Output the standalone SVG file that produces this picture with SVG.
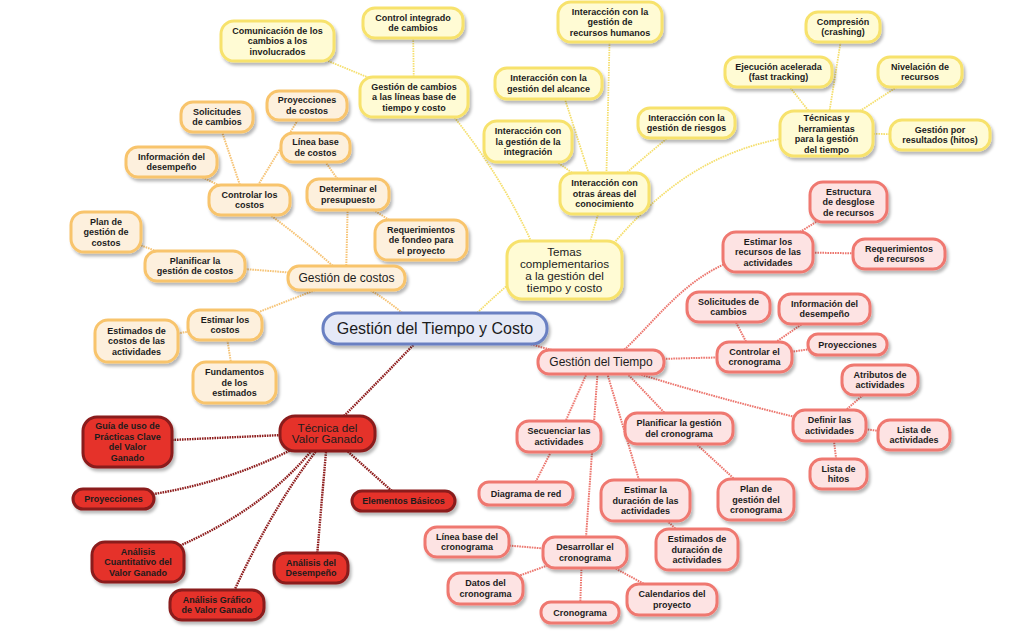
<svg xmlns="http://www.w3.org/2000/svg" width="1032" height="631" viewBox="0 0 1032 631">
<defs>
<filter id="sh" x="-20%" y="-30%" width="140%" height="170%">
<feDropShadow dx="2" dy="3" stdDeviation="1.8" flood-color="#000" flood-opacity="0.28"/>
</filter>
<style>
.n rect{stroke-width:3;filter:url(#sh)}
.n text{font-family:"Liberation Sans",Arial,sans-serif;font-weight:bold;font-size:9px;fill:#1c1c1c;text-anchor:middle}
.n.big text{font-weight:normal;font-size:12px}
.n.mid text{font-weight:normal;font-size:11.7px}
.n.c text{font-weight:normal;font-size:16px}
.y rect{fill:#fffbd4;stroke:#f7e26c}
.o rect{fill:#fdf0dd;stroke:#f8c46c}
.p rect{fill:#fde3e3;stroke:#ef7870}
.r rect{fill:#e5322b;stroke:#8a1c1c}
.c rect{fill:#e5e9f7;stroke:#6a80c2}
#connectors path{fill:none;stroke-width:2;stroke-dasharray:1.6 0.9}
#connectors .cy{stroke:#f5df6e;stroke-width:1.8}
#connectors .co{stroke:#f6c477}
#connectors .cp{stroke:#ec766e}
#connectors .cr{stroke:#8e1d1d;stroke-width:2.4}
</style>
</defs>
<rect width="1032" height="631" fill="#ffffff"/>
<g id="connectors">
<path class="co" d="M346,278 Q380,292 410,320"/>
<path class="cy" d="M470,320 Q495,295 520,275"/>
<path class="cp" d="M500,335 Q540,348 601,362"/>
<path class="cr" d="M420,338 Q380,380 327,433"/>
<path class="cy" d="M277,41 Q340,65 414,97"/>
<path class="cy" d="M413,23 L414,97"/>
<path class="cy" d="M440,100 Q500,170 535,250"/>
<path class="cy" d="M610,22 L606,193"/>
<path class="cy" d="M560,84 Q575,130 595,193"/>
<path class="cy" d="M528,141 L600,193"/>
<path class="cy" d="M686,123 Q640,160 604,193"/>
<path class="cy" d="M604,193 L585,260"/>
<path class="cy" d="M826,133 C720,140 660,185 600,260"/>
<path class="cy" d="M843,27 L826,133"/>
<path class="cy" d="M778,72 L826,133"/>
<path class="cy" d="M920,72 L826,133"/>
<path class="cy" d="M940,135 L826,133"/>
<path class="co" d="M249,200 Q300,235 346,278"/>
<path class="co" d="M348,194 L346,278"/>
<path class="co" d="M195,266 Q270,270 346,278"/>
<path class="co" d="M225,325 Q290,300 346,278"/>
<path class="co" d="M217,117 L245,200"/>
<path class="co" d="M307,105 L249,200"/>
<path class="co" d="M171,162 L249,200"/>
<path class="co" d="M315,147 L348,194"/>
<path class="co" d="M421,240 L348,194"/>
<path class="co" d="M106,232 L195,266"/>
<path class="co" d="M136,341 L225,325"/>
<path class="co" d="M225,325 L234,382"/>
<path class="cp" d="M615,358 C660,320 690,262 768,252"/>
<path class="cp" d="M601,362 Q660,358 754,357"/>
<path class="cp" d="M620,368 Q720,400 829,425"/>
<path class="cp" d="M620,366 L679,428"/>
<path class="cp" d="M605,366 L645,500"/>
<path class="cp" d="M598,366 L585,552"/>
<path class="cp" d="M590,366 L559,436"/>
<path class="cp" d="M848,202 L768,252"/>
<path class="cp" d="M899,254 L768,252"/>
<path class="cp" d="M728,307 L754,357"/>
<path class="cp" d="M824,309 L754,357"/>
<path class="cp" d="M847,344 L754,357"/>
<path class="cp" d="M880,380 L829,425"/>
<path class="cp" d="M914,435 L829,425"/>
<path class="cp" d="M838,474 L832,425"/>
<path class="cp" d="M559,436 L530,493"/>
<path class="cp" d="M679,428 L756,499"/>
<path class="cp" d="M645,500 L697,549"/>
<path class="cp" d="M467,542 L585,552"/>
<path class="cp" d="M485,588 L585,552"/>
<path class="cp" d="M582,552 L580,612"/>
<path class="cp" d="M585,552 L672,599"/>
<path class="cr" d="M127,442 L327,433"/>
<path class="cr" d="M113,499 Q220,490 310,440"/>
<path class="cr" d="M138,562 Q260,520 320,440"/>
<path class="cr" d="M230,600 Q275,500 325,440"/>
<path class="cr" d="M316,568 L327,440"/>
<path class="cr" d="M403,501 L335,440"/>
</g>

<g id="comunicacion" class="n y"><rect x="221" y="21" width="113" height="40" rx="13"/><text x="277.5" y="33.7">Comunicación de los<tspan x="277.5" dy="10.5">cambios a los</tspan><tspan x="277.5" dy="10.5">involucrados</tspan></text></g>
<g id="control-integrado" class="n y"><rect x="363" y="8" width="100" height="30" rx="12"/><text x="413" y="20.9">Control integrado<tspan x="413" dy="10.5">de cambios</tspan></text></g>
<g id="gestion-cambios" class="n y"><rect x="360" y="77" width="108" height="40" rx="13"/><text x="414" y="89.7">Gestión de cambios<tspan x="414" dy="10.5">a las líneas base de</tspan><tspan x="414" dy="10.5">tiempo y costo</tspan></text></g>
<g id="int-rrhh" class="n y"><rect x="558" y="2" width="104" height="40" rx="13"/><text x="610" y="14.7">Interacción con la<tspan x="610" dy="10.5">gestión de</tspan><tspan x="610" dy="10.5">recursos humanos</tspan></text></g>
<g id="int-alcance" class="n y"><rect x="495" y="68" width="107" height="31" rx="12"/><text x="548.5" y="81.4">Interacción con la<tspan x="548.5" dy="10.5">gestión del alcance</tspan></text></g>
<g id="int-integracion" class="n y"><rect x="484" y="121" width="88" height="41" rx="13"/><text x="528" y="134.2">Interacción con<tspan x="528" dy="10.5">la gestión de la</tspan><tspan x="528" dy="10.5">integración</tspan></text></g>
<g id="int-riesgos" class="n y"><rect x="638" y="108" width="97" height="30" rx="12"/><text x="686.5" y="120.9">Interacción con la<tspan x="686.5" dy="10.5">gestión de riesgos</tspan></text></g>
<g id="int-otras" class="n y"><rect x="560" y="173" width="89" height="41" rx="13"/><text x="604.5" y="186.2">Interacción con<tspan x="604.5" dy="10.5">otras áreas del</tspan><tspan x="604.5" dy="10.5">conocimiento</tspan></text></g>
<g id="compresion" class="n y"><rect x="806" y="12" width="74" height="30" rx="12"/><text x="843" y="24.9">Compresión<tspan x="843" dy="10.5">(crashing)</tspan></text></g>
<g id="ejecucion" class="n y"><rect x="725" y="57" width="107" height="30" rx="12"/><text x="778.5" y="69.9">Ejecución acelerada<tspan x="778.5" dy="10.5">(fast tracking)</tspan></text></g>
<g id="nivelacion" class="n y"><rect x="878" y="57" width="84" height="30" rx="12"/><text x="920" y="69.9">Nivelación de<tspan x="920" dy="10.5">recursos</tspan></text></g>
<g id="tecnicas" class="n y"><rect x="780" y="111" width="93" height="45" rx="14"/><text x="826.5" y="121">Técnicas y<tspan x="826.5" dy="10.5">herramientas</tspan><tspan x="826.5" dy="10.5">para la gestión</tspan><tspan x="826.5" dy="10.5">del tiempo</tspan></text></g>
<g id="gestion-resultados" class="n y"><rect x="890" y="120" width="100" height="30" rx="12"/><text x="940" y="132.9">Gestión por<tspan x="940" dy="10.5">resultados (hitos)</tspan></text></g>
<g id="temas" class="n y mid"><rect x="507" y="241" width="115" height="58" rx="15"/><text x="564.5" y="256">Temas<tspan x="564.5" dy="12">complementarios</tspan><tspan x="564.5" dy="12">a la gestión del</tspan><tspan x="564.5" dy="12">tiempo y costo</tspan></text></g>

<g id="o-solicitudes" class="n o"><rect x="181" y="102" width="72" height="30" rx="12"/><text x="217" y="114.9">Solicitudes<tspan x="217" dy="10.5">de cambios</tspan></text></g>
<g id="o-proyecciones" class="n o"><rect x="267" y="91" width="80" height="29" rx="12"/><text x="307" y="103.4">Proyecciones<tspan x="307" dy="10.5">de costos</tspan></text></g>
<g id="o-linea-base" class="n o"><rect x="281" y="133" width="69" height="29" rx="12"/><text x="315.5" y="145.4">Línea base<tspan x="315.5" dy="10.5">de costos</tspan></text></g>
<g id="o-informacion" class="n o"><rect x="126" y="147" width="91" height="30" rx="12"/><text x="171.5" y="159.9">Información del<tspan x="171.5" dy="10.5">desempeño</tspan></text></g>
<g id="o-controlar" class="n o"><rect x="209" y="185" width="81" height="30" rx="12"/><text x="249.5" y="197.9">Controlar los<tspan x="249.5" dy="10.5">costos</tspan></text></g>
<g id="o-determinar" class="n o"><rect x="307" y="179" width="82" height="31" rx="12"/><text x="348" y="192.4">Determinar el<tspan x="348" dy="10.5">presupuesto</tspan></text></g>
<g id="o-requerimientos" class="n o"><rect x="375" y="220" width="92" height="40" rx="13"/><text x="421" y="232.7">Requerimientos<tspan x="421" dy="10.5">de fondeo para</tspan><tspan x="421" dy="10.5">el proyecto</tspan></text></g>
<g id="o-plan" class="n o"><rect x="71" y="212" width="70" height="40" rx="13"/><text x="106" y="224.7">Plan de<tspan x="106" dy="10.5">gestión de</tspan><tspan x="106" dy="10.5">costos</tspan></text></g>
<g id="o-planificar" class="n o"><rect x="145" y="251" width="100" height="30" rx="12"/><text x="195" y="263.9">Planificar la<tspan x="195" dy="10.5">gestión de costos</tspan></text></g>
<g id="gestion-costos" class="n o big"><rect x="288" y="266" width="117" height="24" rx="11"/><text x="346.5" y="282.2">Gestión de costos</text></g>
<g id="o-estimar" class="n o"><rect x="188" y="310" width="74" height="30" rx="12"/><text x="225" y="322.9">Estimar los<tspan x="225" dy="10.5">costos</tspan></text></g>
<g id="o-estimados" class="n o"><rect x="95" y="320" width="83" height="42" rx="13"/><text x="136.5" y="333.7">Estimados de<tspan x="136.5" dy="10.5">costos de las</tspan><tspan x="136.5" dy="10.5">actividades</tspan></text></g>
<g id="o-fundamentos" class="n o"><rect x="193" y="362" width="83" height="41" rx="13"/><text x="234.5" y="375.2">Fundamentos<tspan x="234.5" dy="10.5">de los</tspan><tspan x="234.5" dy="10.5">estimados</tspan></text></g>

<g id="p-estructura" class="n p"><rect x="810" y="182" width="77" height="40" rx="13"/><text x="848.5" y="194.7">Estructura<tspan x="848.5" dy="10.5">de desglose</tspan><tspan x="848.5" dy="10.5">de recursos</tspan></text></g>
<g id="p-estimar-recursos" class="n p"><rect x="723" y="232" width="90" height="40" rx="13"/><text x="768" y="244.7">Estimar los<tspan x="768" dy="10.5">recursos de las</tspan><tspan x="768" dy="10.5">actividades</tspan></text></g>
<g id="p-requerimientos" class="n p"><rect x="853" y="239" width="92" height="30" rx="12"/><text x="899" y="251.9">Requerimientos<tspan x="899" dy="10.5">de recursos</tspan></text></g>
<g id="p-solicitudes" class="n p"><rect x="687" y="292" width="83" height="30" rx="12"/><text x="728.5" y="304.9">Solicitudes de<tspan x="728.5" dy="10.5">cambios</tspan></text></g>
<g id="p-informacion" class="n p"><rect x="779" y="294" width="91" height="30" rx="12"/><text x="824.5" y="306.9">Información del<tspan x="824.5" dy="10.5">desempeño</tspan></text></g>
<g id="p-controlar" class="n p"><rect x="717" y="342" width="75" height="30" rx="12"/><text x="754.5" y="354.9">Controlar el<tspan x="754.5" dy="10.5">cronograma</tspan></text></g>
<g id="p-proyecciones" class="n p"><rect x="808" y="334" width="79" height="21" rx="10"/><text x="847.5" y="347.7">Proyecciones</text></g>
<g id="gestion-tiempo" class="n p big"><rect x="538" y="350" width="126" height="24" rx="11"/><text x="601" y="366.2">Gestión del Tiempo</text></g>
<g id="p-atributos" class="n p"><rect x="842" y="365" width="76" height="30" rx="12"/><text x="880" y="377.9">Atributos de<tspan x="880" dy="10.5">actividades</tspan></text></g>
<g id="p-definir" class="n p"><rect x="793" y="410" width="73" height="31" rx="12"/><text x="829.5" y="423.4">Definir las<tspan x="829.5" dy="10.5">actividades</tspan></text></g>
<g id="p-lista-act" class="n p"><rect x="878" y="420" width="72" height="30" rx="12"/><text x="914" y="432.9">Lista de<tspan x="914" dy="10.5">actividades</tspan></text></g>
<g id="p-lista-hitos" class="n p"><rect x="810" y="459" width="57" height="30" rx="12"/><text x="838.5" y="471.9">Lista de<tspan x="838.5" dy="10.5">hitos</tspan></text></g>
<g id="p-secuenciar" class="n p"><rect x="517" y="421" width="84" height="31" rx="12"/><text x="559" y="434.4">Secuenciar las<tspan x="559" dy="10.5">actividades</tspan></text></g>
<g id="p-planificar" class="n p"><rect x="625" y="413" width="108" height="31" rx="12"/><text x="679" y="426.4">Planificar la gestión<tspan x="679" dy="10.5">del cronograma</tspan></text></g>
<g id="p-diagrama" class="n p"><rect x="479" y="482" width="94" height="23" rx="10"/><text x="526" y="496.7">Diagrama de red</text></g>
<g id="p-estimar-duracion" class="n p"><rect x="601" y="480" width="89" height="41" rx="13"/><text x="645.5" y="493.2">Estimar la<tspan x="645.5" dy="10.5">duración de las</tspan><tspan x="645.5" dy="10.5">actividades</tspan></text></g>
<g id="p-plan-cronograma" class="n p"><rect x="718" y="479" width="76" height="41" rx="13"/><text x="756" y="492.2">Plan de<tspan x="756" dy="10.5">gestión del</tspan><tspan x="756" dy="10.5">cronograma</tspan></text></g>
<g id="p-estimados-duracion" class="n p"><rect x="656" y="529" width="82" height="41" rx="13"/><text x="697" y="542.2">Estimados de<tspan x="697" dy="10.5">duración de</tspan><tspan x="697" dy="10.5">actividades</tspan></text></g>
<g id="p-linea-base" class="n p"><rect x="425" y="527" width="84" height="30" rx="12"/><text x="467" y="539.9">Línea base del<tspan x="467" dy="10.5">cronograma</tspan></text></g>
<g id="p-desarrollar" class="n p"><rect x="543" y="537" width="84" height="31" rx="12"/><text x="585" y="550.4">Desarrollar el<tspan x="585" dy="10.5">cronograma</tspan></text></g>
<g id="p-datos" class="n p"><rect x="448" y="573" width="75" height="31" rx="12"/><text x="485.5" y="586.4">Datos del<tspan x="485.5" dy="10.5">cronograma</tspan></text></g>
<g id="p-cronograma" class="n p"><rect x="541" y="602" width="78" height="21" rx="10"/><text x="580" y="615.7">Cronograma</text></g>
<g id="p-calendarios" class="n p"><rect x="627" y="584" width="90" height="31" rx="12"/><text x="672" y="597.4">Calendarios del<tspan x="672" dy="10.5">proyecto</tspan></text></g>

<g id="tecnica-valor" class="n r mid"><rect x="280" y="416" width="95" height="35" rx="15"/><text x="327.5" y="432">Técnica del<tspan x="327.5" dy="11">Valor Ganado</tspan></text></g>
<g id="r-guia" class="n r"><rect x="83" y="417" width="89" height="50" rx="14"/><text x="127.5" y="429.4">Guía de uso de<tspan x="127.5" dy="10.5">Prácticas Clave</tspan><tspan x="127.5" dy="10.5">del Valor</tspan><tspan x="127.5" dy="10.5">Ganado</tspan></text></g>
<g id="r-proyecciones" class="n r"><rect x="73" y="489" width="81" height="20" rx="10"/><text x="113.5" y="502.2">Proyecciones</text></g>
<g id="r-elementos" class="n r"><rect x="352" y="491" width="103" height="20" rx="10"/><text x="403.5" y="504.2">Elementos Básicos</text></g>
<g id="r-cuantitativo" class="n r"><rect x="92" y="542" width="92" height="40" rx="13"/><text x="138" y="554.7">Análisis<tspan x="138" dy="10.5">Cuantitativo del</tspan><tspan x="138" dy="10.5">Valor Ganado</tspan></text></g>
<g id="r-desempeno" class="n r"><rect x="274" y="553" width="74" height="30" rx="12"/><text x="311" y="565.9">Análisis del<tspan x="311" dy="10.5">Desempeño</tspan></text></g>
<g id="r-grafico" class="n r"><rect x="170" y="590" width="94" height="30" rx="12"/><text x="217" y="602.9">Análisis Gráfico<tspan x="217" dy="10.5">de Valor Ganado</tspan></text></g>

<g id="centro" class="n c"><rect x="323" y="313" width="224" height="31" rx="15"/><text x="435" y="334.2">Gestión del Tiempo y Costo</text></g>
</svg>
